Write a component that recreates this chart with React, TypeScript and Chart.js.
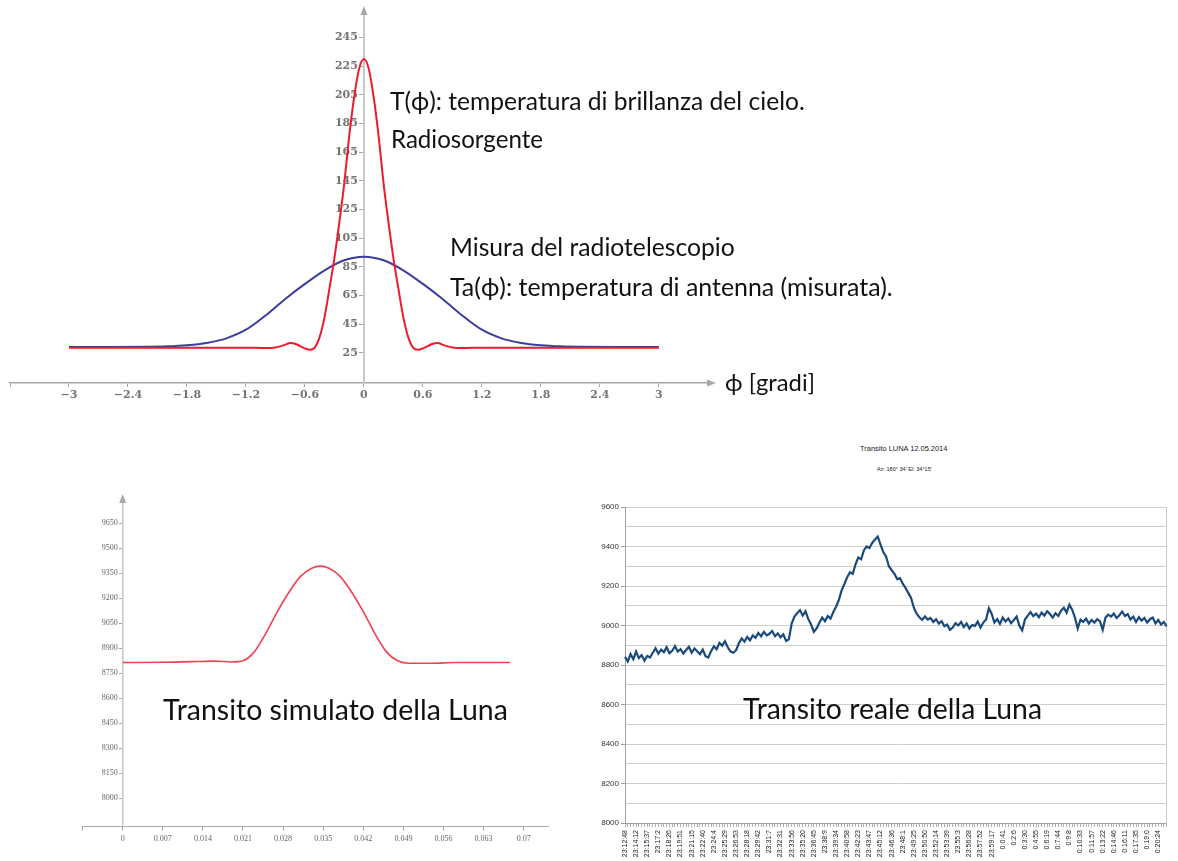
import React, { useEffect, useRef, useMemo } from "react";
import { Chart, registerables } from "chart.js";
Chart.register(...registerables);

// ---------------- Top chart: T(phi) and Ta(phi) ----------------
const PHI_TICKS = [-3, -2.4, -1.8, -1.2, -0.6, 0, 0.6, 1.2, 1.8, 2.4, 3];
const T_TICKS = [25, 45, 65, 85, 105, 125, 145, 165, 185, 205, 225, 245];
const RED_PHI = [-3, -2.4, -1.8, -1.4, -1.2, -1.0, -0.9, -0.8, -0.75, -0.7, -0.65, -0.6, -0.55, -0.5, -0.45, -0.4, -0.35, -0.3, -0.25, -0.2, -0.15, -0.1, -0.05, 0,
  0.05, 0.1, 0.15, 0.2, 0.25, 0.3, 0.35, 0.4, 0.45, 0.5, 0.55, 0.6, 0.65, 0.7, 0.75, 0.8, 0.9, 1.0, 1.2, 1.4, 1.8, 2.4, 3];
const RED_T = [28.5, 28.5, 28.5, 28.5, 28.5, 28.2, 28.6, 30.5, 31.8, 31.2, 29.6, 28.0, 27.0, 28.5, 36, 50, 70, 91, 116, 143, 176, 203, 223, 230,
  223, 203, 176, 143, 116, 91, 70, 50, 36, 28.5, 27.0, 28.0, 29.6, 31.2, 31.8, 30.5, 28.6, 28.2, 28.5, 28.5, 28.5, 28.5, 28.5];
const BLUE_PHI = [-3, -2.6, -2.2, -2.0, -1.8, -1.6, -1.4, -1.2, -1.0, -0.8, -0.6, -0.4, -0.2, 0, 0.2, 0.4, 0.6, 0.8, 1.0, 1.2, 1.4, 1.6, 1.8, 2.0, 2.2, 2.6, 3];
const BLUE_T = [29, 29, 29.1, 29.4, 30.2, 31.8, 35, 41, 51, 62.5, 73, 82.5, 89.5, 92, 89.5, 82.5, 73, 62.5, 51, 41, 35, 31.8, 30.2, 29.4, 29.1, 29, 29];

// ---------------- Bottom-left: simulated transit ----------------
const SIM_X_TICKS = [0, 0.007, 0.014, 0.021, 0.028, 0.035, 0.042, 0.049, 0.056, 0.063, 0.07];
const SIM_X_LABELS = ["0", "0.007", "0.014", "0.021", "0.028", "0.035", "0.042", "0.049", "0.056", "0.063", "0.07"];
const SIM_Y_TICKS = [8000, 8150, 8300, 8450, 8600, 8750, 8900, 9050, 9200, 9350, 9500, 9650];
const SIM_X = [0, 0.007, 0.012, 0.016, 0.019, 0.021, 0.023, 0.025, 0.027, 0.029, 0.031, 0.033, 0.0345, 0.036, 0.038, 0.040, 0.042, 0.044, 0.046, 0.048, 0.050, 0.054, 0.058, 0.063, 0.0676];
const SIM_Y = [8815, 8816, 8820, 8823, 8818, 8825, 8880, 8990, 9120, 9235, 9330, 9380, 9393, 9380, 9330, 9235, 9120, 8990, 8880, 8825, 8810, 8810, 8815, 8815, 8815];

// ---------------- Bottom-right: real transit ----------------
const TIME_LABELS = ["23:12:48", "23:14:12", "23:15:37", "23:17:2", "23:18:26", "23:19:51", "23:21:15", "23:22:40", "23:24:4", "23:25:29",
  "23:26:53", "23:28:18", "23:29:42", "23:31:7", "23:32:31", "23:33:56", "23:35:20", "23:36:45", "23:38:9", "23:39:34",
  "23:40:58", "23:42:23", "23:43:47", "23:45:12", "23:46:36", "23:48:1", "23:49:25", "23:50:50", "23:52:14", "23:53:39",
  "23:55:3", "23:56:28", "23:57:52", "23:59:17", "0:0:41", "0:2:6", "0:3:30", "0:4:55", "0:6:19", "0:7:44",
  "0:9:8", "0:10:33", "0:11:57", "0:13:22", "0:14:46", "0:16:11", "0:17:35", "0:19:0", "0:20:24"];
const REAL_VALUES = [
  8842, 8818, 8855, 8830, 8868, 8835, 8850, 8822, 8846, 8838,
  8862, 8885, 8858, 8878, 8865, 8890, 8860, 8872, 8895, 8868,
  8880, 8858, 8876, 8892, 8862, 8884, 8870, 8855, 8878, 8845,
  8838, 8870, 8895, 8880, 8912, 8898, 8920, 8890, 8868, 8862,
  8875, 8910, 8935, 8918, 8942, 8925, 8950, 8938, 8962, 8945,
  8968, 8950, 8958, 8972, 8946, 8960, 8940, 8955, 8922, 8930,
  9010, 9045, 9062, 9078, 9050, 9072, 9032, 9005, 8968, 8985,
  9015, 9040, 9022, 9048, 9035, 9068, 9095, 9130, 9178, 9210,
  9245, 9270, 9262, 9310, 9345, 9335, 9380, 9400, 9392, 9418,
  9435, 9450, 9410, 9372, 9350, 9300, 9280, 9262, 9235, 9240,
  9212, 9190, 9165, 9140, 9090, 9060, 9042, 9028, 9046, 9030,
  9038, 9018, 9032, 9010, 9022, 8996, 9005, 8978, 8990, 9012,
  9000, 9018, 8992, 9010, 8985, 9002, 8998, 9020, 8990, 9015,
  9030, 9088, 9060, 9015, 9032, 9008, 9040, 9020, 9035, 9012,
  9028, 9045, 8998, 8975, 9030, 9050, 9068, 9048, 9060, 9042,
  9065, 9050, 9072, 9058, 9040, 9062, 9048, 9075, 9090, 9065,
  9105, 9080, 9040, 8985, 9030, 9018, 9035, 9010, 9028, 9015,
  9032, 9022, 8978, 9040, 9055, 9045, 9060, 9038, 9052, 9070,
  9048, 9058, 9030, 9045, 9018, 9042, 9025, 9038, 9015, 9032,
  9040, 9010, 9028, 9005, 9018, 8995];
const POINTS_PER_LABEL = 4;

// ---------------- helpers ----------------
const arrowPlugin = {
  id: "axisArrows",
  afterDraw(chart: any, _args: any, opts: any) {
    const { ctx, chartArea } = chart;
    ctx.save();
    ctx.fillStyle = opts.color || "#aaa";
    if (opts.xRight) {
      const y = chartArea.bottom;
      const x = chartArea.right;
      ctx.beginPath();
      ctx.moveTo(x + 8, y);
      ctx.lineTo(x - 1, y - 3.5);
      ctx.lineTo(x - 1, y + 3.5);
      ctx.closePath();
      ctx.fill();
    }
    if (opts.yTop) {
      const x = chart.scales.x.getPixelForValue(0);
      const y = chartArea.top;
      ctx.beginPath();
      ctx.moveTo(x, y - 8);
      ctx.lineTo(x - 3.5, y + 1);
      ctx.lineTo(x + 3.5, y + 1);
      ctx.closePath();
      ctx.fill();
    }
    ctx.restore();
  },
};

// Chart.js right-aligns labels of an axis positioned at a data value exactly on the axis line;
// move them left so they sit beside their tick marks.
const labelShiftPlugin = {
  id: "labelShift",
  beforeDraw(chart: any, _args: any, opts: any) {
    const s = chart.scales[opts.scale];
    if (!s) return;
    const items = s.getLabelItems();
    if ((items as any)._shifted) return;
    items.forEach((it: any) => {
      const t = it.options.translation;
      it.options.translation = [t[0] + opts.dx, t[1]];
    });
    (items as any)._shifted = true;
  },
};

const fmtMinus = (v: number) => (v < 0 ? "\u2212" + String(Math.abs(v)) : String(v));

function ChartCanvas({ left, top, width, height, make }: any) {
  const ref = useRef<HTMLCanvasElement>(null);
  useEffect(() => {
    const chart = new Chart(ref.current as HTMLCanvasElement, make());
    return () => chart.destroy();
  }, []);
  return (
    <canvas
      ref={ref}
      width={width}
      height={height}
      style={{ position: "absolute", left, top, width, height }}
    />
  );
}

function measureText(text: string, font: string) {
  const c = document.createElement("canvas").getContext("2d") as CanvasRenderingContext2D;
  c.font = font;
  return c.measureText(text).width;
}

function FitText({ text, x, y, w, family = "Lato", color = "#111" }: any) {
  const size = useMemo(() => {
    const base = 20;
    const m = measureText(text, `${base}px ${family}`);
    return (base * w) / m;
  }, [text, w, family]);
  return (
    <div
      style={{
        position: "absolute",
        left: x,
        top: y - size * 0.62,
        fontFamily: family,
        fontSize: size,
        lineHeight: `${size * 1.2}px`,
        whiteSpace: "nowrap",
        color,
      }}
    >
      {text}
    </div>
  );
}

// ---------------- chart configs ----------------
function makeTop(): any {
  const xMin = -3.6;
  return {
    type: "line",
    data: {
      datasets: [
        {
          data: RED_PHI.map((x, i) => ({ x, y: RED_T[i] })),
          borderColor: "#ee1b2d",
          borderWidth: 2,
          pointRadius: 0,
          cubicInterpolationMode: "monotone",
          fill: false,
        },
        {
          data: BLUE_PHI.map((x, i) => ({ x, y: BLUE_T[i] })),
          borderColor: "#3b3d9e",
          borderWidth: 2,
          pointRadius: 0,
          cubicInterpolationMode: "monotone",
          fill: false,
        },
      ],
    },
    options: {
      responsive: false,
      animation: false,
      layout: { padding: { left: 10, right: 122, top: 14, bottom: 7 } },
      plugins: {
        legend: { display: false },
        tooltip: { enabled: false },
        axisArrows: { color: "#a8a8a8", xRight: true, yTop: true },
        labelShift: { scale: "y", dx: -6 },
      },
      scales: {
        x: {
          type: "linear",
          position: "bottom",
          min: xMin,
          max: 3.5,
          afterBuildTicks: (s: any) => {
            s.ticks = [xMin, ...PHI_TICKS].map((v) => ({ value: v }));
          },
          afterFit: (s: any) => {
            s.height = 20;
          },
          ticks: {
            autoSkip: false,
            maxRotation: 0,
            padding: 2,
            color: "#747474",
            font: { family: "DejaVu Serif", size: 11, weight: "bold" },
            callback: (v: number) => (v === xMin ? "" : fmtMinus(v)),
          },
          grid: { drawOnChartArea: false, tickLength: 4, color: "#a8a8a8" },
          border: { color: "#a8a8a8", width: 1.5 },
        },
        y: {
          type: "linear",
          position: { x: 0 },
          min: 3.8,
          max: 261.5,
          afterBuildTicks: (s: any) => {
            s.ticks = T_TICKS.map((v) => ({ value: v }));
          },
          ticks: {
            padding: 2,
            color: "#747474",
            font: { family: "DejaVu Serif", size: 11, weight: "bold" },
            callback: (v: number) => String(v),
          },
          grid: { drawOnChartArea: false, tickLength: 4, color: "#a8a8a8" },
          border: { color: "#c8c8c8", width: 2 },
        },
      },
    },
    plugins: [arrowPlugin, labelShiftPlugin],
  };
}

function makeSim(): any {
  const xMin = -0.0071;
  return {
    type: "line",
    data: {
      datasets: [
        {
          data: SIM_X.map((x, i) => ({ x, y: SIM_Y[i] })),
          borderColor: "#f2404e",
          borderWidth: 1.6,
          pointRadius: 0,
          cubicInterpolationMode: "monotone",
          fill: false,
        },
      ],
    },
    options: {
      responsive: false,
      animation: false,
      layout: { padding: { left: 22, right: 12, top: 22, bottom: 14.3 } },
      plugins: {
        legend: { display: false },
        tooltip: { enabled: false },
        axisArrows: { color: "#a8a8a8", xRight: false, yTop: true },
        labelShift: { scale: "y", dx: -5 },
      },
      scales: {
        x: {
          type: "linear",
          position: "bottom",
          min: xMin,
          max: 0.07424,
          afterBuildTicks: (s: any) => {
            s.ticks = [xMin, ...SIM_X_TICKS].map((v) => ({ value: v }));
          },
          afterFit: (s: any) => {
            s.height = 20;
          },
          ticks: {
            autoSkip: false,
            maxRotation: 0,
            padding: 3,
            color: "#666",
            font: { family: "Liberation Serif", size: 8 },
            callback: (v: number) => {
              const i = SIM_X_TICKS.indexOf(v);
              return i < 0 ? "" : SIM_X_LABELS[i];
            },
          },
          grid: { drawOnChartArea: false, tickLength: 4, color: "#a8a8a8" },
          border: { color: "#a8a8a8", width: 1 },
        },
        y: {
          type: "linear",
          position: { x: 0 },
          min: 7829.6,
          max: 9777.8,
          afterBuildTicks: (s: any) => {
            s.ticks = SIM_Y_TICKS.map((v) => ({ value: v }));
          },
          ticks: {
            padding: 2,
            color: "#666",
            font: { family: "Liberation Serif", size: 8 },
            callback: (v: number) => String(v),
          },
          grid: { drawOnChartArea: false, tickLength: 3, color: "#a8a8a8" },
          border: { color: "#c8c8c8", width: 1.5 },
        },
      },
    },
    plugins: [arrowPlugin, labelShiftPlugin],
  };
}

function makeReal(): any {
  const labels = REAL_VALUES.map((_, i) =>
    i % POINTS_PER_LABEL === 0 && TIME_LABELS[i / POINTS_PER_LABEL] !== undefined ? TIME_LABELS[i / POINTS_PER_LABEL] : ""
  );
  return {
    type: "line",
    data: {
      labels,
      datasets: [
        {
          data: REAL_VALUES,
          borderColor: "#1a4a7c",
          borderWidth: 2.2,
          pointRadius: 0,
          tension: 0,
          fill: false,
          yAxisID: "y",
        },
      ],
    },
    options: {
      responsive: false,
      animation: false,
      layout: { padding: { left: 0, right: 2, top: 12, bottom: 0 } },
      plugins: { legend: { display: false }, tooltip: { enabled: false } },
      scales: {
        x: {
          type: "category",
          position: "bottom",
          offset: false,
          afterFit: (s: any) => {
            s.height = 38;
          },
          ticks: {
            autoSkip: false,
            minRotation: 90,
            maxRotation: 90,
            padding: 3,
            color: "#222",
            font: { family: "Liberation Sans", size: 7 },
            callback: (_v: any, i: number) => labels[i],
          },
          grid: { drawOnChartArea: false, tickLength: 4, color: "#b0b0b0" },
          border: { color: "#a0a0a0", width: 1 },
        },
        y: {
          type: "linear",
          position: "left",
          min: 8000,
          max: 9600,
          afterFit: (s: any) => {
            s.width = 65;
          },
          ticks: {
            stepSize: 100,
            padding: 2,
            color: "#333",
            font: { family: "Liberation Sans", size: 8 },
            callback: (v: number) => (v % 200 === 0 ? String(v) : ""),
          },
          grid: {
            color: "#cfcfcf",
            lineWidth: 1,
            tickLength: 4,
            tickColor: (c: any) => (c.tick && c.tick.value % 200 === 0 ? "#a0a0a0" : "rgba(0,0,0,0)"),
          },
          border: { color: "#a0a0a0", width: 1 },
        },
        y2: {
          type: "linear",
          position: "right",
          afterFit: (s: any) => {
            s.width = 0;
          },
          ticks: { display: false },
          grid: { drawOnChartArea: false, drawTicks: false },
          border: { color: "#c8c8c8", width: 1 },
        },
      },
    },
  };
}

export default function App() {
  return (
    <div
      style={{
        position: "absolute",
        left: 0,
        top: 0,
        width: 1178,
        height: 861,
        background: "#fff",
        overflow: "hidden",
      }}
    >
      <ChartCanvas left={0} top={0} width={830} height={410} make={makeTop} />
      <ChartCanvas left={60} top={480} width={500} height={381} make={makeSim} />
      <ChartCanvas left={560} top={495} width={618} height={366} make={makeReal} />

      <FitText text={"T(\u03D5): temperatura di brillanza del cielo."} x={390} y={101} w={415} />
      <FitText text="Radiosorgente" x={391} y={140} w={152} />
      <FitText text="Misura del radiotelescopio" x={450} y={247} w={285} />
      <FitText text={"Ta(\u03D5): temperatura di antenna (misurata)."} x={450} y={287} w={443} />
      <FitText text={"\u03D5 [gradi]"} x={725} y={383} w={90} />

      <FitText text="Transito simulato della Luna" x={163} y={710} w={345} />
      <FitText text="Transito reale della Luna" x={743} y={709} w={299} />

      <FitText text="Transito LUNA 12.05.2014" x={860} y={450} w={88} family="Liberation Sans" color="#222" />
      <FitText text={"Az: 180\u00B0 34' El: 34\u00B015'"} x={877} y={469} w={55} family="Liberation Sans" color="#222" />
    </div>
  );
}
